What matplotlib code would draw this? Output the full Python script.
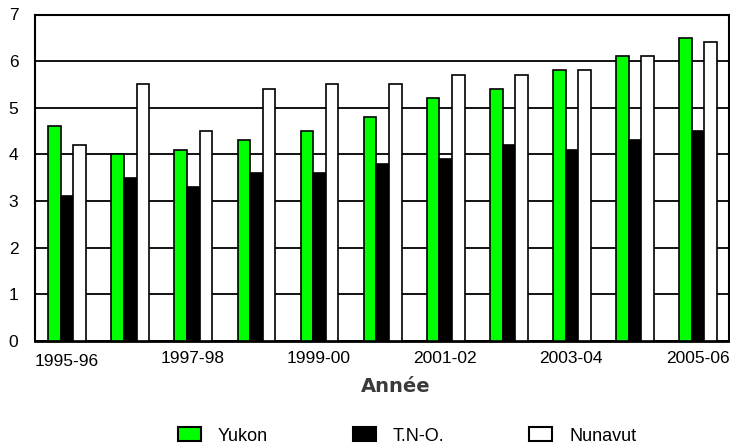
import matplotlib
matplotlib.use("Agg")
import matplotlib.pyplot as plt
import matplotlib.transforms as mtrans
import numpy as np
from matplotlib.patches import Patch

plt.rcParams['font.family'] = ['Liberation Sans', 'DejaVu Sans']

years = ["1995-96", "1996-97", "1997-98", "1998-99", "1999-00", "2000-01",
         "2001-02", "2002-03", "2003-04", "2004-05", "2005-06"]
yukon = [4.6, 4.0, 4.1, 4.3, 4.5, 4.8, 5.2, 5.4, 5.8, 6.1, 6.5]
tno = [3.1, 3.5, 3.3, 3.6, 3.6, 3.8, 3.9, 4.2, 4.1, 4.3, 4.5]
nunavut = [4.2, 5.5, 4.5, 5.4, 5.5, 5.5, 5.7, 5.7, 5.8, 6.1, 6.4]
series_names = ["Yukon", "T.N-O.", "Nunavut"]
colors = ["#00ff00", "#000000", "#ffffff"]

fig = plt.figure(figsize=(7.30, 4.46), dpi=100)
ax = fig.add_axes([35/730, 1-341/446, 694/730, (341-14.5)/446])

x = np.arange(len(years))
w = 0.2
for vals, off, c in zip([yukon, tno, nunavut], [-0.19, 0.01, 0.21], colors):
    ax.bar(x + off, vals, width=w, color=c, edgecolor="black", linewidth=1.2, zorder=3)

ax.set_xlim(-0.5, len(years) - 0.5)
ax.set_ylim(0, 7)
ax.set_yticks(range(0, 8))
ax.yaxis.grid(True, color="black", linewidth=1.3, zorder=0)
ax.set_axisbelow(True)
ax.set_xticks(x[::2])
ax.set_xticklabels(years[::2])
ax.tick_params(axis="both", length=0, labelsize=12.5)
ax.tick_params(axis="y", pad=12)
ax.tick_params(axis="x", pad=7)
for s in ["left", "bottom", "top", "right"]:
    ax.spines[s].set_linewidth(1.5)
ax.spines["bottom"].set_linewidth(2)

# first x label sits slightly lower in the reference
first = ax.get_xticklabels()[0]
first.set_transform(first.get_transform() +
                    mtrans.ScaledTranslation(0, -3.5/100, fig.dpi_scale_trans))

fig.text(396/730, 1-387/446, "Année", ha="center", va="center", fontsize=14,
         color="#3a3a3a", fontweight="bold", family="DejaVu Sans")

handles = [Patch(facecolor=c, edgecolor="black", linewidth=1.5) for c in colors]
fig.legend(handles, series_names, loc="center", bbox_to_anchor=(407/730, 1-436/446),
           ncol=3, frameon=False, fontsize=13, handlelength=1.28, handleheight=0.83,
           columnspacing=4.7, handletextpad=0.94, borderpad=0, borderaxespad=0)

fig.savefig("out.png", dpi=100)
